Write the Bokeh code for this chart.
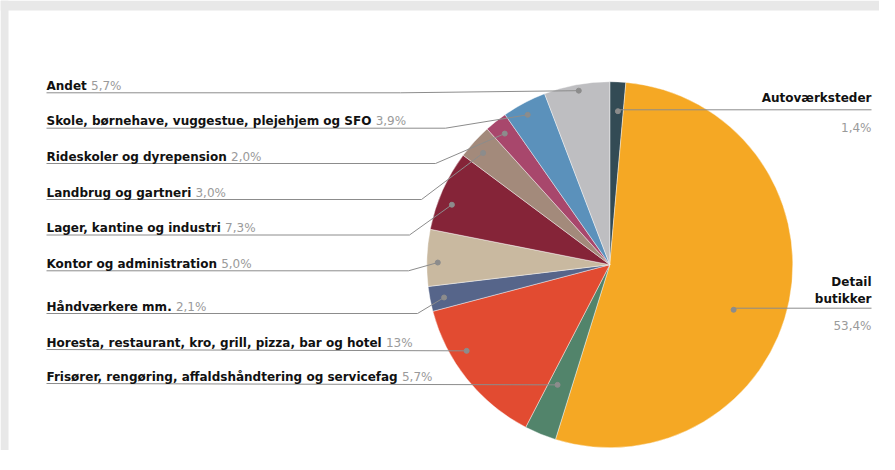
import glob
import numpy as np
from bokeh.plotting import figure
from bokeh.models import Range1d, ColumnDataSource
from bokeh.embed import file_html
from bokeh.resources import INLINE
from bokeh.core.properties import value

# ---------------- data ----------------
categories = [
    "Autoværksteder",
    "Detail butikker",
    "Frisører, rengøring, affaldshåndtering og servicefag",
    "Horesta, restaurant,  kro, grill, pizza, bar og hotel",
    "Håndværkere mm.",
    "Kontor og administration",
    "Lager, kantine og industri",
    "Landbrug og gartneri",
    "Rideskoler og dyrepension",
    "Skole, børnehave, vuggestue, plejehjem og SFO",
    "Andet",
]
# slice sizes (percent)
shares = [1.4, 53.4, 2.8, 13.3, 2.2, 5.0, 7.1, 3.1, 2.0, 3.9, 5.8]
# percentage labels as printed
pct_labels = ["1,4%", "53,4%", "5,7%", "13%", "2,1%", "5,0%", "7,3%", "3,0%", "2,0%", "3,9%", "5,7%"]
colors = ["#334b55", "#f5a824", "#52846b", "#e24b31", "#56658a", "#c9b9a0",
          "#852438", "#a38a7b", "#a8476c", "#5b91bb", "#bebec1"]

# ---------------- layout ----------------
W, H = 879, 450
ML, MT = 8, 10          # grey page frame (left, top)
def Y(py):
    return H - py

CX, CY, R = 609.3, 264.2, 183.0
FONT = value("DejaVu Sans")
FSIZE = 12
FS = f"{FSIZE}px"
LINE_C = "#8c8c8c"
PCT_C = "#9a9a9a"
TXT_C = "#111111"
FRAME_C = "#e8e8e8"

# dot placement within each slice: (fraction of slice angle, fraction of radius)
dot_frac = [0.6, 0.546, 0.617, 0.66, 0.45, 0.42, 0.377, 0.42, 0.475, 0.443, 0.516]
dot_rf = [0.84, 0.72, 0.716, 0.913, 0.923, 0.94, 0.923, 0.923, 0.918, 0.934, 0.966]

# left labels (slice index, underline y, bend x, fallback pct x) - page pixels
left_idx = [10, 9, 8, 7, 6, 5, 4, 3, 2]
left_uy = [92.3, 127.7, 163.0, 199.0, 234.5, 270.3, 313.0, 349.0, 383.0]
left_bend = [400, 445, 435, 421, 409, 408, 417, None, None]
left_pctx = [91.7, 375.0, 232.0, 197.0, 224.0, 222.0, 174.0, 381.0, 412.0]
LX = 46
RX = 871


def bold_width(s):
    try:
        from PIL import ImageFont
        paths = glob.glob("/usr/share/fonts/**/DejaVuSans-Bold.ttf", recursive=True)
        f = ImageFont.truetype(paths[0], FSIZE)
        return f.getlength(" ".join(s.split()))
    except Exception:
        return None


pct_x = []
for k, i in enumerate(left_idx):
    w = bold_width(categories[i])
    pct_x.append(LX + w + 4.2 if w is not None else left_pctx[k])

p = figure(width=W, height=H, x_range=Range1d(0, W), y_range=Range1d(0, H),
           output_backend="svg", toolbar_location=None, x_axis_type=None, y_axis_type=None,
           min_border=0, outline_line_color=None, background_fill_color="white",
           border_fill_color="white")
p.grid.visible = False

# grey page frame on the left and top
p.quad(left=[0, 0], right=[ML, W], bottom=[0, H - MT], top=[H, H],
       fill_color=FRAME_C, line_color=None)

tot = float(sum(shares))
cum = np.concatenate([[0.0], np.cumsum(shares)]) / tot * 2 * np.pi
t1, t2 = cum[:-1], cum[1:]
src = ColumnDataSource(dict(start=np.pi / 2 - t2, end=np.pi / 2 - t1, color=colors))
p.wedge(x=CX, y=Y(CY), radius=R, start_angle="start", end_angle="end",
        fill_color="color", line_color="white", line_width=0.6, line_alpha=0.7, source=src)

theta = t1 + np.array(dot_frac) * (t2 - t1)
dot_x = CX + np.array(dot_rf) * R * np.sin(theta)
dot_y = Y(CY) + np.array(dot_rf) * R * np.cos(theta)

# leader lines
xs, ys = [], []
for k, i in enumerate(left_idx):
    uy = Y(left_uy[k])
    if left_bend[k] is None:
        xs.append([LX, dot_x[i]]); ys.append([uy, dot_y[i]])
    else:
        xs.append([LX, left_bend[k], dot_x[i]]); ys.append([uy, uy, dot_y[i]])
right_uy = {0: 109.3, 1: 307.7}
for i, uy in right_uy.items():
    xs.append([dot_x[i], RX]); ys.append([Y(uy), Y(uy)])
p.multi_line(xs=xs, ys=ys, line_color=LINE_C, line_width=1)
p.scatter(x=dot_x, y=dot_y, size=5, color=LINE_C)

# left label texts
p.text(x=[LX] * len(left_idx), y=[Y(u - 7) for u in left_uy],
       text=[categories[i] for i in left_idx], text_font=FONT, text_font_size=FS,
       text_font_style="bold", text_color=TXT_C, text_baseline="alphabetic", text_align="left")
p.text(x=pct_x, y=[Y(u - 7) for u in left_uy],
       text=[pct_labels[i] for i in left_idx], text_font=FONT, text_font_size=FS,
       text_color=PCT_C, text_baseline="alphabetic", text_align="left")

# right label texts
detail_words = categories[1].split(" ")
p.text(x=[RX, RX, RX], y=[Y(97.3), Y(281.7), Y(298.3)],
       text=[categories[0], detail_words[0], detail_words[1]], text_font=FONT, text_font_size=FS,
       text_font_style="bold", text_color=TXT_C, text_baseline="alphabetic", text_align="right")
p.text(x=[RX, RX], y=[Y(127.3), Y(325.0)], text=[pct_labels[0], pct_labels[1]],
       text_font=FONT, text_font_size=FS, text_color=PCT_C,
       text_baseline="alphabetic", text_align="right")

open("out.html", "w").write(file_html(p, INLINE))
